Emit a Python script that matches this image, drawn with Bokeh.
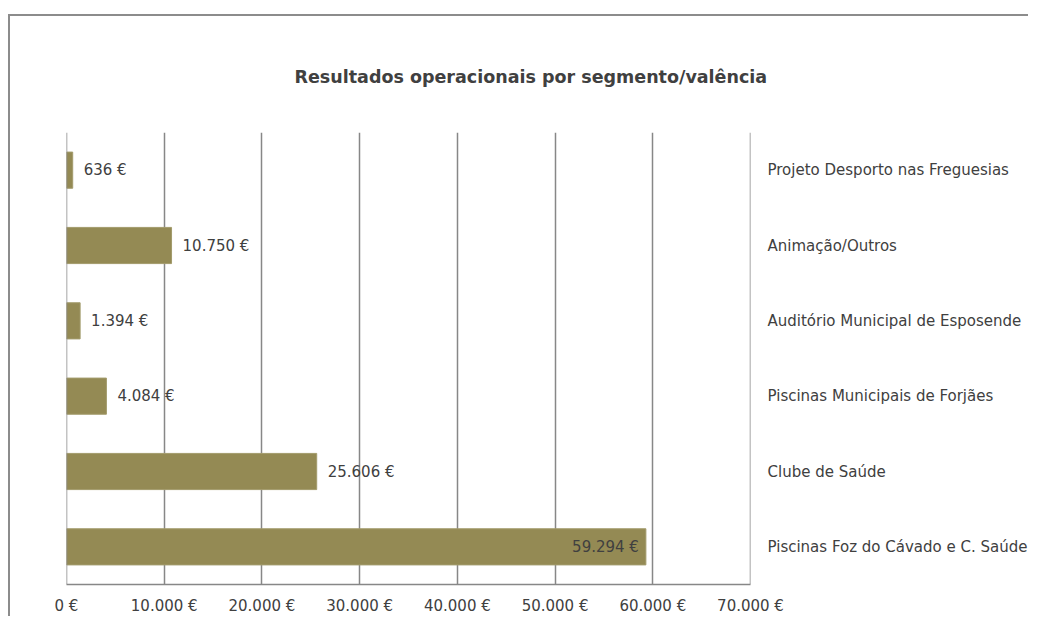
from bokeh.plotting import figure
from bokeh.layouts import column, row
from bokeh.models import (ColumnDataSource, FactorRange, Range1d, CategoricalAxis,
                          FixedTicker, CustomJSTickFormatter, Title, Span, Spacer)
from bokeh.embed import file_html
from bokeh.resources import INLINE
from bokeh.core.properties import value

# ---- data ----
categories = [
    "Projeto Desporto nas Freguesias",
    "Animação/Outros",
    "Auditório Municipal de Esposende",
    "Piscinas Municipais de Forjães",
    "Clube de Saúde",
    "Piscinas Foz do Cávado e C. Saúde",
]
values = [636, 10750, 1394, 4084, 25606, 59294]
x_ticks = [0, 10000, 20000, 30000, 40000, 50000, 60000, 70000]

FONT = "DejaVu Sans"
TXT = "#404040"
GRID = "#878787"
BAR = "#948a54"

def fmt(v):
    return "{:,}".format(v).replace(",", ".") + " €"

factors = list(reversed(categories))
max_v = max(values)
inside = [v > 0.8 * max_v for v in values]

src_out = ColumnDataSource(dict(
    cat=[c for c, i in zip(categories, inside) if not i],
    val=[v for v, i in zip(values, inside) if not i],
    lab=[fmt(v) for v, i in zip(values, inside) if not i],
))
src_in = ColumnDataSource(dict(
    cat=[c for c, i in zip(categories, inside) if i],
    val=[v for v, i in zip(values, inside) if i],
    lab=[fmt(v) for v, i in zip(values, inside) if i],
))
src_bar = ColumnDataSource(dict(cat=categories, val=values))

p = figure(
    width=1020, height=602,
    y_range=FactorRange(factors=factors, range_padding=0),
    x_range=Range1d(x_ticks[0], x_ticks[-1]),
    output_backend="svg", toolbar_location=None,
    min_border_left=56, min_border_right=279, min_border_top=116, min_border_bottom=34,
    y_axis_location=None,
)
p.styles = {"border-left": "2px solid #8c8c8c", "border-top": "2px solid #8c8c8c"}
p.outline_line_color = None
p.background_fill_color = "white"
p.border_fill_color = "white"

p.title = Title(text="Resultados operacionais por segmento/valência", align="left",
                offset=228, text_font=FONT,
                text_font_size="17.5px", text_font_style="bold",
                text_color=TXT, standoff=92)

p.hbar(y="cat", right="val", left=0, height=0.48, source=src_bar,
       fill_color=BAR, line_color="#a39b6c", line_width=1)

p.text(x="val", y="cat", text="lab", source=src_out, x_offset=11,
       text_align="left", text_baseline="middle", text_font=value(FONT),
       text_font_size="15px", text_color=TXT)
p.text(x="val", y="cat", text="lab", source=src_in, x_offset=-7,
       text_align="right", text_baseline="middle", text_font=value(FONT),
       text_font_size="15px", text_color=TXT)

# x axis
xa = p.xaxis[0]
xa.ticker = FixedTicker(ticks=x_ticks)
xa.formatter = CustomJSTickFormatter(code="return tick.toLocaleString('de-DE') + ' €';")
xa.axis_line_color = GRID
xa.axis_line_width = 1.5
xa.major_tick_line_color = None
xa.minor_tick_line_color = None
xa.major_tick_out = 0
xa.major_tick_in = 0
xa.minor_tick_out = 0
xa.minor_tick_in = 0
xa.axis_label_standoff = 0
xa.major_label_standoff = 12
xa.major_label_text_font = FONT
xa.major_label_text_font_size = "15px"
xa.major_label_text_color = TXT

# right categorical axis
ra = CategoricalAxis()
ra.axis_line_color = None
ra.major_tick_line_color = None
ra.minor_tick_line_color = None
ra.major_tick_out = 0
ra.major_tick_in = 0
ra.major_label_standoff = 17
ra.major_label_text_font = FONT
ra.major_label_text_font_size = "15px"
ra.major_label_text_color = TXT
p.add_layout(ra, "right")

p.ygrid.grid_line_color = None
p.xgrid.ticker = FixedTicker(ticks=x_ticks)
p.xgrid.grid_line_color = GRID
p.xgrid.grid_line_width = 1.5

for loc in (x_ticks[0], x_ticks[-1]):
    p.add_layout(Span(location=loc, dimension="height", line_color=GRID, line_width=1.5))

layout = column(Spacer(height=14), row(Spacer(width=8), p, spacing=0), spacing=0)

open("out.html", "w").write(file_html(layout, INLINE))
